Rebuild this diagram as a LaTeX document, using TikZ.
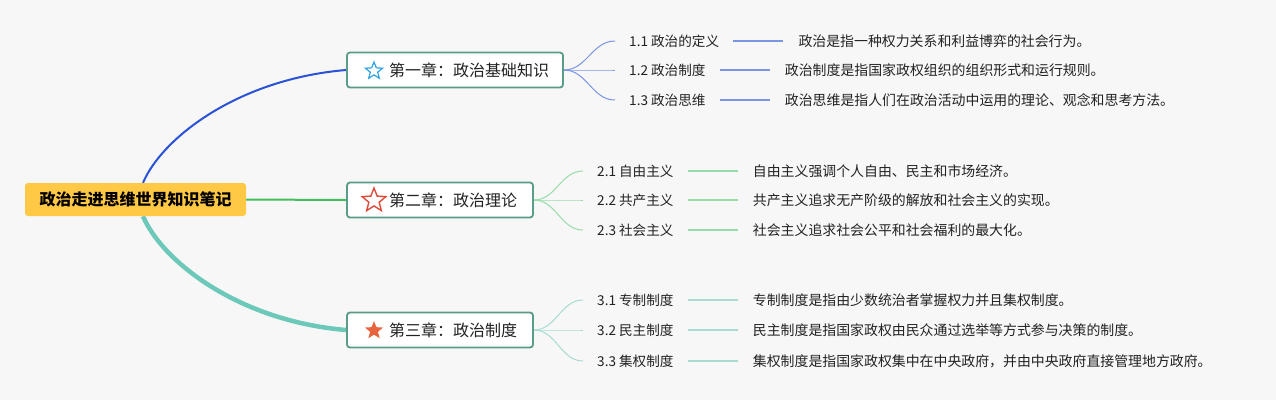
\documentclass[tikz,border=0pt]{standalone}
\usepackage{fontspec}
\setmainfont{Noto Sans CJK SC}
\usetikzlibrary{shapes.geometric,backgrounds}
\definecolor{bgc}{HTML}{F7F7F8}
\definecolor{rootc}{HTML}{FFC845}
\definecolor{bluec}{HTML}{2A52D6}
\definecolor{greenc}{HTML}{40BF5C}
\definecolor{tealc}{HTML}{6CC8B8}
\definecolor{boxc}{HTML}{5A9B8A}
\definecolor{lblue}{HTML}{7A96E2}
\definecolor{lgreen}{HTML}{97DCA7}
\definecolor{lteal}{HTML}{A8DCD2}
\definecolor{txt}{HTML}{222222}
\definecolor{staro}{HTML}{E8643C}
\definecolor{starr}{HTML}{E04A3A}
\definecolor{starb}{HTML}{2FA0E0}
\begin{document}
\begin{tikzpicture}[x=1pt,y=-1pt,
  rootbox/.style={fill=rootc, rounded corners=3pt, minimum width=221pt, minimum height=33pt, inner sep=0pt, text=black, font=\fontsize{16}{19}\selectfont\bfseries},
  chbox/.style={draw=boxc, line width=1.8pt, fill=white, rounded corners=3pt, minimum height=35pt, inner sep=0pt},
  chtext/.style={anchor=west, inner sep=0pt, text=txt, font=\fontsize{16}{19}\selectfont},
  leaf/.style={anchor=west, inner xsep=14pt, inner ysep=2pt, text=txt, font=\fontsize{13.6}{16}\selectfont},
  desc/.style={anchor=west, inner xsep=15pt, inner ysep=2pt, text=txt, font=\fontsize{13.9}{16}\selectfont},
  starshape/.style={star, star points=5, star point ratio=2.3, inner sep=0pt},
  sub/.style={line width=1pt, out=0, in=180},
  hline/.style={line width=1.2pt}
]
\useasboundingbox (0,0) rectangle (1276,400);
% root
\node[rootbox] (root) at (135.5,199.5) {政治走进思维世界知识笔记};
% chapter boxes
\node[chbox, minimum width=216pt] (ch1) at (455,70) {};
\node[chbox, minimum width=186pt] (ch2) at (440,200) {};
\node[chbox, minimum width=186pt] (ch3) at (440,330) {};
\node[starshape, draw=starb, line width=1.2pt, minimum size=18pt] (s1) at (374,71) {};
\node[starshape, draw=starr, line width=1.4pt, minimum size=25pt] (s2) at (374,200.5) {};
\node[starshape, fill=staro, minimum size=19pt] (s3) at (374,330.5) {};
\node[chtext] (t1) at (389,70) {第一章：政治基础知识};
\node[chtext] (t2) at (389,200) {第二章：政治理论};
\node[chtext] (t3) at (389,330) {第三章：政治制度};
% leaves chapter 1
\node[leaf] (l11) at (615,41) {1.1 政治的定义};
\node[leaf] (l12) at (615,70) {1.2 政治制度};
\node[leaf] (l13) at (615,100) {1.3 政治思维};
\node[desc] (d11) at ([xshift=50pt]l11.east) {政治是指一种权力关系和利益博弈的社会行为。};
\node[desc] (d12) at ([xshift=50pt]l12.east) {政治制度是指国家政权组织的组织形式和运行规则。};
\node[desc] (d13) at ([xshift=50pt]l13.east) {政治思维是指人们在政治活动中运用的理论、观念和思考方法。};
% leaves chapter 2
\node[leaf] (l21) at (583,171) {2.1 自由主义};
\node[leaf] (l22) at (583,200) {2.2 共产主义};
\node[leaf] (l23) at (583,230) {2.3 社会主义};
\node[desc] (d21) at ([xshift=50pt]l21.east) {自由主义强调个人自由、民主和市场经济。};
\node[desc] (d22) at ([xshift=50pt]l22.east) {共产主义追求无产阶级的解放和社会主义的实现。};
\node[desc] (d23) at ([xshift=50pt]l23.east) {社会主义追求社会公平和社会福利的最大化。};
% leaves chapter 3
\node[leaf] (l31) at (583,300) {3.1 专制制度};
\node[leaf] (l32) at (583,330) {3.2 民主制度};
\node[leaf] (l33) at (583,361) {3.3 集权制度};
\node[desc] (d31) at ([xshift=50pt]l31.east) {专制制度是指由少数统治者掌握权力并且集权制度。};
\node[desc] (d32) at ([xshift=50pt]l32.east) {民主制度是指国家政权由民众通过选举等方式参与决策的制度。};
\node[desc] (d33) at ([xshift=50pt]l33.east) {集权制度是指国家政权集中在中央政府，并由中央政府直接管理地方政府。};
\begin{pgfonlayer}{background}
\fill[bgc] (0,0) rectangle (1276,400);
% main branches
\draw[bluec, line width=2pt] ([xshift=7.5pt]root.north) .. controls (162,138) and (238,79) .. (ch1.west);
\draw[greenc, line width=2pt] (root.east) -- (ch2.west);
\draw[tealc, line width=4.5pt] ([xshift=7.5pt]root.south) .. controls (162,261) and (238,321) .. (ch3.west);
% sub branches
\foreach \i in {1,2,3} {
  \draw[lblue, sub] (ch1.east) to (l1\i.west);
  \draw[lblue, hline] (l1\i.east) -- (d1\i.west);
  \draw[lgreen, sub] (ch2.east) to (l2\i.west);
  \draw[lgreen, hline] (l2\i.east) -- (d2\i.west);
  \draw[lteal, sub] (ch3.east) to (l3\i.west);
  \draw[lteal, hline] (l3\i.east) -- (d3\i.west);
}
\end{pgfonlayer}
\end{tikzpicture}
\end{document}
